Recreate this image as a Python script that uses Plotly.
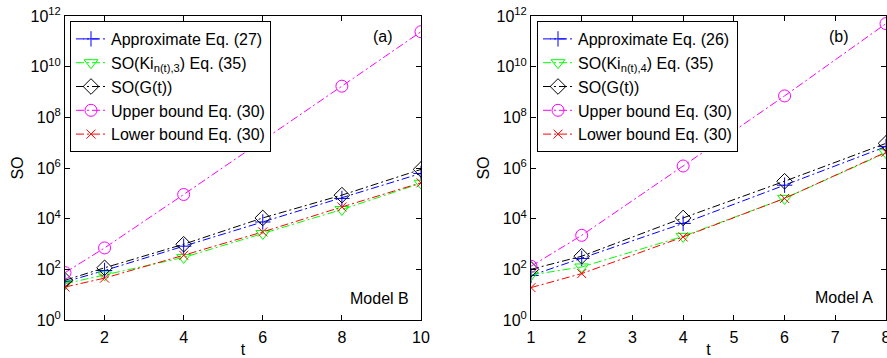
import plotly.graph_objects as go

# ---- data ----
t_a = [1, 2, 4, 6, 8, 10]
approx_a = [32, 90, 820, 7400, 6.3e4, 6.1e5]
ki_a = [27, 60, 295, 2600, 2.3e4, 2.5e5]
g_a = [37, 115, 980, 1.07e4, 8.5e4, 8.8e5]
upper_a = [74, 700, 9e4, 1.2e7, 1.7e9, 2.4e11]
lower_a = [20, 45, 360, 3000, 2.9e4, 2.6e5]

t_b = [1, 2, 4, 6, 8]
approx_b = [57, 270, 6500, 2.1e5, 7e6]
ki_b = [60, 124, 2000, 6.3e4, 4e6]
g_b = [100, 330, 1.07e4, 3e5, 9.4e6]
upper_b = [132, 2200, 1.2e6, 7e8, 5e11]
lower_b = [19, 68, 1900, 6.3e4, 4.2e6]

names_a = ["Approximate Eq. (27)", "SO(Ki<sub>n(t),3</sub>) Eq. (35)", "SO(G(t))",
           "Upper bound Eq. (30)", "Lower bound Eq. (30)"]
names_b = ["Approximate Eq. (26)", "SO(Ki<sub>n(t),4</sub>) Eq. (35)", "SO(G(t))",
           "Upper bound Eq. (30)", "Lower bound Eq. (30)"]

ytick_vals = [10 ** k for k in range(0, 13, 2)]
ytick_text = ["10<sup>%d</sup>" % k for k in range(0, 13, 2)]

colors = ["#0000FF", "#00FF00", "#000000", "#FF00FF", "#FF0000"]
symbols = ["cross-thin-open", "triangle-down-open", "diamond-open", "circle-open", "x-thin-open"]
msizes = [11, 12, 12, 12, 9]

FONT = "Liberation Sans, Arial, sans-serif"

fig = go.Figure()

def add_series(t, ys, names, xa, ya, leg):
    for y, nm, c, s, ms in zip(ys, names, colors, symbols, msizes):
        fig.add_trace(go.Scatter(
            x=t, y=y, name=nm, mode="lines+markers",
            line=dict(color=c, width=1, dash="8px,3px,2px,3px"),
            marker=dict(symbol=s, size=ms, color=c, line=dict(color=c, width=1)),
            xaxis=xa, yaxis=ya, legend=leg,
        ))

add_series(t_a, [approx_a, ki_a, g_a, upper_a, lower_a], names_a, "x", "y", "legend")
add_series(t_b, [approx_b, ki_b, g_b, upper_b, lower_b], names_b, "x2", "y2", "legend2")

W, H = 887, 358
y0, y1 = (H - 320) / H, (H - 16) / H

axis_common = dict(showline=True, linecolor="black", linewidth=1, mirror="allticks",
                   ticks="inside", ticklen=5, tickcolor="black", showgrid=False,
                   zeroline=False, automargin=False,
                   tickfont=dict(family=FONT, size=16, color="black"))
xtitle = dict(text="t", standoff=0, font=dict(family=FONT, size=16))
ytitle = dict(text="SO", standoff=2, font=dict(family=FONT, size=16))

fig.update_layout(
    width=W, height=H, margin=dict(l=0, r=0, t=0, b=0, autoexpand=False),
    paper_bgcolor="white", plot_bgcolor="white",
    font=dict(family=FONT, size=16, color="black"),
    xaxis=dict(domain=[65 / W, 421 / W], range=[1, 10], tickvals=[2, 4, 6, 8, 10],
               title=xtitle, anchor="y", ticklabelstandoff=3, ticklabeloverflow="allow",
               **axis_common),
    yaxis=dict(domain=[y0, y1], type="log", range=[0, 12], tickvals=ytick_vals,
               ticktext=ytick_text, title=ytitle, anchor="x", **axis_common),
    xaxis2=dict(domain=[531 / W, 886 / W], range=[1, 8], tickvals=list(range(1, 9)),
                title=xtitle, anchor="y2", ticklabelstandoff=3, ticklabeloverflow="allow",
                **axis_common),
    yaxis2=dict(domain=[y0, y1], type="log", range=[0, 12], tickvals=ytick_vals,
                ticktext=ytick_text, title=ytitle, anchor="x2", **axis_common),
    legend=dict(x=70 / W, y=(H - 21) / H, xanchor="left", yanchor="top",
                bgcolor="white", bordercolor="black", borderwidth=1,
                font=dict(family=FONT, size=16), tracegroupgap=0, itemwidth=30),
    legend2=dict(x=537 / W, y=(H - 21) / H, xanchor="left", yanchor="top",
                 bgcolor="white", bordercolor="black", borderwidth=1,
                 font=dict(family=FONT, size=16), tracegroupgap=0, itemwidth=30),
    showlegend=True,
)

anns = [("(a)", 383, 36), ("(b)", 839, 36), ("Model B", 379, 298), ("Model A", 844, 297)]
for txt, px, py in anns:
    fig.add_annotation(text=txt, x=px / W, y=(H - py) / H, xref="paper", yref="paper",
                       showarrow=False, xanchor="center", yanchor="middle",
                       font=dict(family=FONT, size=16, color="black"))

fig.write_html("out.html")
